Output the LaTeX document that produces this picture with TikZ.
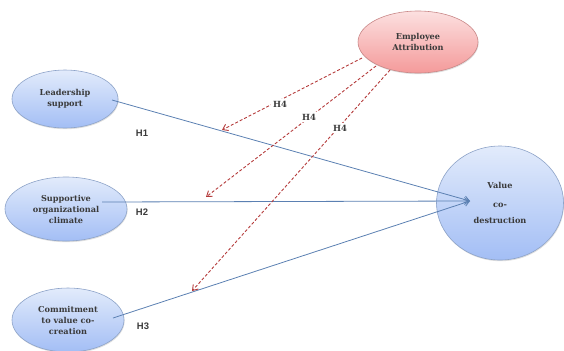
\documentclass[tikz,border=0pt]{standalone}
\usepackage{fontspec}
\setmainfont{DejaVu Serif}
\newfontfamily\hfont{Liberation Sans}
\usetikzlibrary{shapes.geometric,arrows.meta,shadows}
\definecolor{bluetop}{HTML}{E2EBFB}
\definecolor{bluebot}{HTML}{A3BEF5}
\definecolor{blueedge}{HTML}{8DA3C8}
\definecolor{pinktop}{HTML}{FCE0E0}
\definecolor{pinkbot}{HTML}{F49A9A}
\definecolor{pinkedge}{HTML}{C98888}
\definecolor{solidline}{HTML}{5B80B2}
\definecolor{dashline}{HTML}{B43A3A}
\definecolor{txt}{HTML}{3A3A3A}
\tikzset{
  construct/.style={ellipse, draw=blueedge, line width=0.6pt, top color=bluetop, bottom color=bluebot,
    inner sep=0pt, align=center, text=txt, font=\fontsize{8.2}{11}\selectfont\bfseries,
    drop shadow={shadow xshift=0.6pt, shadow yshift=-1.2pt, opacity=0.25}},
  moderator/.style={construct, draw=pinkedge, top color=pinktop, bottom color=pinkbot},
  path1/.style={draw=solidline, line width=0.8pt, -{Straight Barb[length=5pt,width=7pt]}},
  path4/.style={draw=dashline, line width=0.9pt, dash pattern=on 3pt off 2pt, -{Straight Barb[length=5pt,width=7pt]}},
  hlab/.style={fill=white, inner sep=2pt, text=txt, font=\hfont\fontsize{9.5}{10}\selectfont\bfseries},
  h4lab/.style={fill=white, inner sep=2pt, text=txt, font=\fontsize{8.5}{10}\selectfont\bfseries}
}
\begin{document}
\begin{tikzpicture}[x=1bp,y=-1bp]
\useasboundingbox (0,0) rectangle (564,350);
\node[construct, minimum width=106bp, minimum height=58bp] (ls) at (65,99) {Leadership\\support};
\node[construct, minimum width=122bp, minimum height=64bp] (soc) at (66,209) {Supportive\\organizational\\climate};
\node[construct, minimum width=112bp, minimum height=64bp] (cvc) at (68,320) {Commitment\\to value co-\\creation};
\node[moderator, minimum width=120bp, minimum height=62bp] (ea) at (418,42) {Employee\\Attribution};
\node[construct, minimum width=127bp, minimum height=114bp] (vcd) at (500,203) {Value\\[8pt]co-\\[5pt]destruction};
% end points
\coordinate (tip) at (470,201);
\coordinate (s1) at (112,100);
\coordinate (s2) at (102,202);
\coordinate (s3) at (113,318);
\coordinate (t1) at (222,130);
\coordinate (t2) at (206,197);
\coordinate (t3) at (192,291);
\coordinate (e1) at (362,58);
\coordinate (e2) at (376,66);
\coordinate (e3) at (390,70);
\draw[path1] (s1) -- (tip);
\draw[path1] (s2) -- (tip);
\draw[path1] (s3) -- (tip);
\draw[path4] (e1) -- (t1);
\draw[path4] (e2) -- (t2);
\draw[path4] (e3) -- (t3);
\node[h4lab] (h4a) at (280,104) {H4};
\node[h4lab] (h4b) at (309,117) {H4};
\node[h4lab] (h4c) at (340,128) {H4};
\node[hlab] (h1) at (142,133) {H1};
\node[hlab] (h2) at (142,212) {H2};
\node[hlab] (h3) at (143,326) {H3};
\end{tikzpicture}
\end{document}
